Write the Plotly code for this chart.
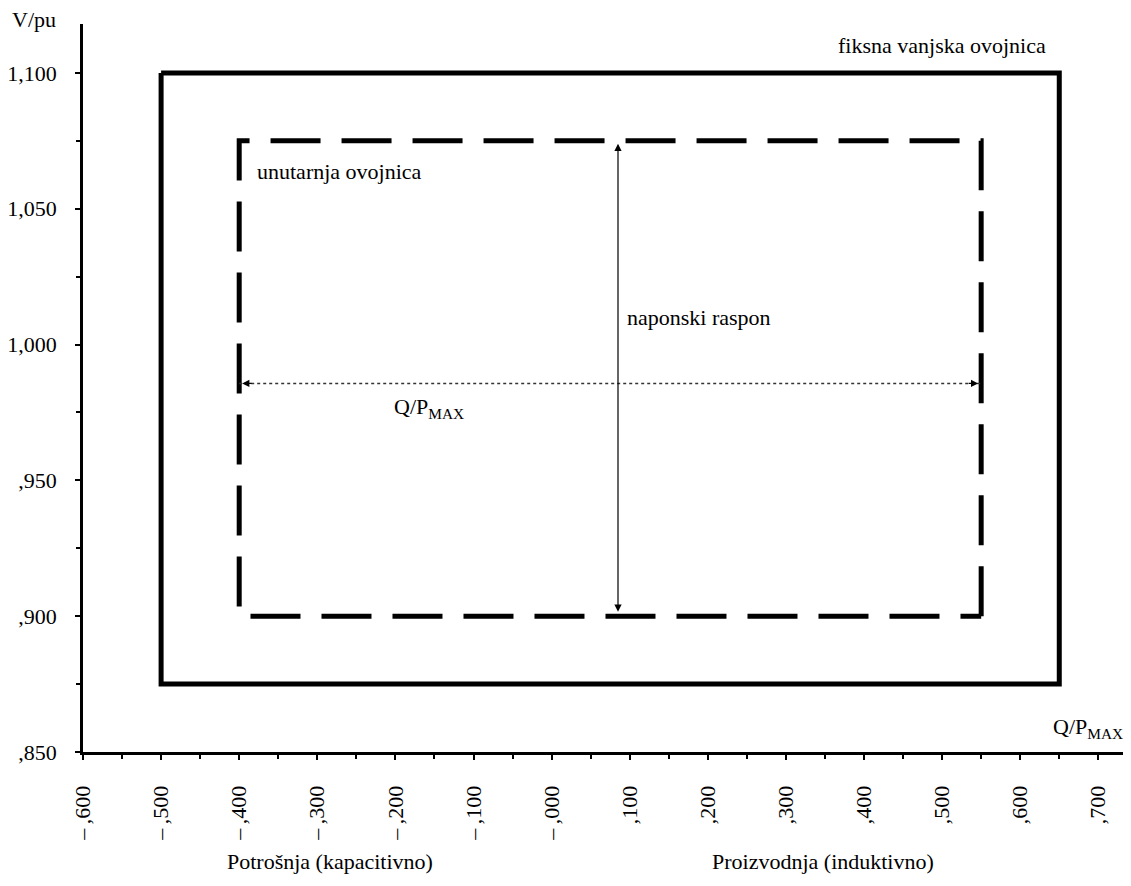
import plotly.graph_objects as go

# ---- data ----
x_tick_vals = [-0.6, -0.5, -0.4, -0.3, -0.2, -0.1, 0.0, 0.1, 0.2, 0.3, 0.4, 0.5, 0.6, 0.7]
x_tick_text = ["–\u2009,600", "–\u2009,500", "–\u2009,400", "–\u2009,300", "–\u2009,200",
               "–\u2009,100", "–\u2009,000",
               ",100", ",200", ",300", ",400", ",500", ",600", ",700"]
y_tick_vals = [0.85, 0.90, 0.95, 1.00, 1.05, 1.10]
y_tick_text = [",850", ",900", ",950", "1,000", "1,050", "1,100"]

outer_q = [-0.5, 0.65, 0.65, -0.5, -0.5]
outer_v = [1.100, 1.100, 0.875, 0.875, 1.100]

inner_q = [0.55, 0.55, -0.4, -0.4, 0.55]
inner_v = [0.900, 1.075, 1.075, 0.900, 0.900]

range_q = [-0.4, 0.55]       # horizontal Q/Pmax span
range_q_level = 0.9857
range_v = [0.900, 1.075]     # vertical voltage span
range_v_pos = 0.085

FONT = "Liberation Serif"

fig = go.Figure()

fig.add_trace(go.Scatter(x=outer_q, y=outer_v, mode="lines",
                         line=dict(color="black", width=5), hoverinfo="skip"))
fig.add_trace(go.Scatter(x=inner_q, y=inner_v, mode="lines",
                         line=dict(color="black", width=5, dash="50px,21px"),
                         hoverinfo="skip"))
fig.add_trace(go.Scatter(x=range_q, y=[range_q_level, range_q_level], mode="lines",
                         line=dict(color="#333333", width=1.5, dash="dot"),
                         hoverinfo="skip"))

# vertical double arrow
fig.add_annotation(x=range_v_pos, y=range_v[1], ax=range_v_pos, ay=range_v[0],
                   xref="x", yref="y", axref="x", ayref="y", text="",
                   showarrow=True, arrowhead=2, arrowside="end+start",
                   arrowsize=1.2, arrowwidth=1.2, arrowcolor="black",
                   standoff=3, startstandoff=3)
# horizontal arrow heads
fig.add_annotation(x=range_q[0], y=range_q_level, ax=14, ay=0, xref="x", yref="y",
                   text="", showarrow=True, arrowhead=2, arrowsize=1.2,
                   arrowwidth=1.2, arrowcolor="black", standoff=3)
fig.add_annotation(x=range_q[1], y=range_q_level, ax=-14, ay=0, xref="x", yref="y",
                   text="", showarrow=True, arrowhead=2, arrowsize=1.2,
                   arrowwidth=1.2, arrowcolor="black", standoff=3)

txt = dict(family=FONT, size=22, color="black")
fig.add_annotation(x=0.5, y=1.110, xref="x", yref="y", text="fiksna vanjska ovojnica",
                   showarrow=False, font=txt, xanchor="center", yanchor="middle")
fig.add_annotation(x=-0.38, y=1.0636, xref="x", yref="y", text="unutarnja ovojnica",
                   showarrow=False, font=txt, xanchor="left", yanchor="middle")
fig.add_annotation(x=0.094, y=1.0098, xref="x", yref="y", text="naponski raspon",
                   showarrow=False, font=txt, xanchor="left", yanchor="middle")
fig.add_annotation(x=-0.204, y=0.9767, xref="x", yref="y", text="Q/P<sub>MAX</sub>",
                   showarrow=False, font=txt, xanchor="left", yanchor="middle")
fig.add_annotation(x=0.997, y=0.033, xref="paper", yref="paper", text="Q/P<sub>MAX</sub>",
                   showarrow=False, font=txt, xanchor="right", yanchor="middle")
fig.add_annotation(x=-0.047, y=1.0055, xref="paper", yref="paper", text="V/pu",
                   showarrow=False, font=txt, xanchor="center", yanchor="middle")
fig.add_annotation(x=0.236, y=-0.151, xref="paper", yref="paper",
                   text="Potrošnja (kapacitivno)", showarrow=False, font=txt,
                   xanchor="center", yanchor="middle")
fig.add_annotation(x=0.708, y=-0.151, xref="paper", yref="paper",
                   text="Proizvodnja (induktivno)", showarrow=False, font=txt,
                   xanchor="center", yanchor="middle")

fig.update_xaxes(range=[-0.6, 0.738], tickmode="array", tickvals=x_tick_vals,
                 ticktext=x_tick_text, tickangle=-90, showgrid=False, zeroline=False,
                 showline=True, linecolor="black", linewidth=3, automargin=False,
                 ticks="outside", ticklen=5, tickwidth=2, tickcolor="black",
                 ticklabelstandoff=17,
                 tickfont=dict(family=FONT, size=22, color="black"),
                 minor=dict(tickmode="linear", tick0=-0.6, dtick=0.05, ticks="outside",
                            ticklen=4, tickwidth=1.5, tickcolor="black"))
fig.update_yaxes(range=[0.85, 1.118], tickmode="array", tickvals=y_tick_vals,
                 ticktext=y_tick_text, showgrid=False, zeroline=False,
                 showline=True, linecolor="black", linewidth=2.5, automargin=False,
                 ticks="outside", ticklen=5, tickwidth=1.5, tickcolor="black",
                 ticklabelstandoff=14,
                 tickfont=dict(family=FONT, size=22, color="black"),
                 minor=dict(tickmode="linear", tick0=0.85, dtick=0.025, ticks="outside",
                            ticklen=4, tickwidth=1.5, tickcolor="black"))

# page body has an 8px margin, so the figure is sized/offset to place the plot
# area at the reference position
fig.update_layout(width=1123, height=878, showlegend=False,
                  plot_bgcolor="white", paper_bgcolor="white",
                  margin=dict(l=75, r=3, t=16, b=134, autoexpand=False))

fig.write_html("out.html")
